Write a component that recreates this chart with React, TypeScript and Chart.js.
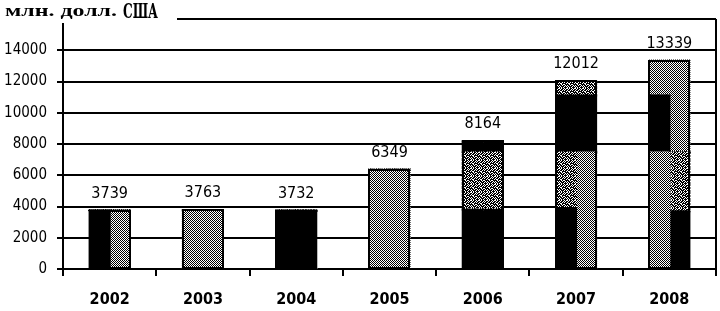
import React, { useEffect, useRef } from "react";
import { Chart, registerables } from "chart.js";

Chart.register(...registerables);

const years = ["2002", "2003", "2004", "2005", "2006", "2007", "2008"];
const totals = [3739, 3763, 3732, 6349, 8164, 12012, 13339];
const yTicks = [0, 2000, 4000, 6000, 8000, 10000, 12000, 14000, 16000];

// left half of each bar, bottom to top
const leftBlack1 = [3739, 0, 3732, 0, 3800, 3900, 0];
const leftGray1 = [0, 3763, 0, 6349, 0, 0, 7460];
const leftMottled2 = [0, 0, 0, 0, 3660, 3560, 0];
const leftBlack3 = [0, 0, 0, 0, 704, 3640, 3640];
const leftMottled4 = [0, 0, 0, 0, 0, 912, 0];
const leftGray4 = [0, 0, 0, 0, 0, 0, 2239];

// right half of each bar, bottom to top
const rightGray1 = [3739, 3763, 0, 6349, 0, 7460, 0];
const rightBlack1 = [0, 0, 3732, 0, 3800, 0, 3700];
const rightMottled2 = [0, 0, 0, 0, 3660, 0, 3760];
const rightBlack3 = [0, 0, 0, 0, 704, 3640, 0];
const rightMottled4 = [0, 0, 0, 0, 0, 912, 0];
const rightGray4 = [0, 0, 0, 0, 0, 0, 5879];

const FONT = '"DejaVu Sans Condensed", "Liberation Sans Narrow", sans-serif';

function makePattern(rows: string[]): CanvasPattern | string {
  const c = document.createElement("canvas");
  c.width = rows[0].length;
  c.height = rows.length;
  const ctx = c.getContext("2d");
  if (!ctx) return "#808080";
  ctx.fillStyle = "#fff";
  ctx.fillRect(0, 0, c.width, c.height);
  ctx.fillStyle = "#000";
  rows.forEach((r, y) => {
    for (let x = 0; x < r.length; x++) if (r[x] === "1") ctx.fillRect(x, y, 1, 1);
  });
  const p = ctx.createPattern(c, "repeat");
  return p || "#808080";
}

export default function App() {
  const ref = useRef<HTMLCanvasElement | null>(null);

  useEffect(() => {
    document.body.style.margin = "0";
    const canvas = ref.current;
    if (!canvas) return;
    const gray = makePattern(["10", "01"]);
    const mottled = makePattern([
      "10110100",
      "01101011",
      "11010110",
      "00111101",
      "10100111",
      "11011010",
      "01110101",
      "10101110",
    ]);
    const black = "#000";

    const ds = (data: number[], stack: string, color: any) => ({
      data,
      stack,
      backgroundColor: color,
      borderWidth: 0,
      inflateAmount: 1,
      categoryPercentage: 0.43,
      barPercentage: 1,
    });

    const overlay = {
      id: "overlay",
      afterDatasetsDraw(chart: any) {
        const ctx = chart.ctx;
        const xs = chart.scales.x;
        const ys = chart.scales.y;
        const n = years.length;
        ctx.save();
        for (let i = 0; i < n; i++) {
          let l = Infinity, r = -Infinity, t = Infinity, b = -Infinity;
          chart.data.datasets.forEach((d: any, di: number) => {
            if (!d.data[i]) return;
            const el = chart.getDatasetMeta(di).data[i];
            const p = el.getProps(["x", "y", "base", "width"], true);
            l = Math.min(l, p.x - p.width / 2);
            r = Math.max(r, p.x + p.width / 2);
            t = Math.min(t, p.y);
            b = Math.max(b, p.base);
          });
          if (l < r) {
            ctx.strokeStyle = "#000";
            ctx.lineWidth = 2;
            ctx.strokeRect(Math.round(l), Math.round(t), Math.round(r - l), Math.round(b - t));
          }
          ctx.fillStyle = "#000";
          ctx.font = "16px " + FONT;
          ctx.textAlign = "center";
          ctx.textBaseline = "alphabetic";
          ctx.fillText(String(totals[i]), xs.getPixelForValue(i), ys.getPixelForValue(totals[i]) - 13);
        }
        ctx.restore();
      },
      afterDraw(chart: any) {
        const ctx = chart.ctx;
        const ca = chart.chartArea;
        ctx.save();
        ctx.strokeStyle = "#000";
        ctx.lineWidth = 2;
        ctx.beginPath();
        ctx.moveTo(ca.right, ca.top);
        ctx.lineTo(ca.right, ca.bottom);
        ctx.stroke();
        ctx.fillStyle = "#fff";
        ctx.fillRect(0, 0, 177, 23);
        ctx.fillStyle = "#000";
        ctx.textBaseline = "alphabetic";
        ctx.textAlign = "left";
        const drawFit = (txt: string, font: string, x: number, y: number, w: number) => {
          ctx.font = font;
          const m = ctx.measureText(txt).width;
          ctx.save();
          ctx.translate(x, y);
          ctx.scale(w / m, 1);
          ctx.fillText(txt, 0, 0);
          ctx.restore();
        };
        drawFit("млн. долл.", 'bold 16px "Liberation Serif", serif', 5, 16, 112);
        drawFit("США", 'bold 20px "DejaVu Serif Condensed", "Liberation Serif", serif', 123, 18, 35);
        ctx.restore();
      },
    };

    const chart = new Chart(canvas, {
      type: "bar",
      data: {
        labels: years,
        datasets: [
          ds(leftBlack1, "L", black),
          ds(leftGray1, "L", gray),
          ds(leftMottled2, "L", mottled),
          ds(leftBlack3, "L", black),
          ds(leftMottled4, "L", mottled),
          ds(leftGray4, "L", gray),
          ds(rightGray1, "R", gray),
          ds(rightBlack1, "R", black),
          ds(rightMottled2, "R", mottled),
          ds(rightBlack3, "R", black),
          ds(rightMottled4, "R", mottled),
          ds(rightGray4, "R", gray),
        ] as any,
      },
      options: {
        animation: false,
        responsive: false,
        devicePixelRatio: 1,
        layout: { padding: { left: 0, right: 4, top: 14, bottom: 0 } },
        plugins: { legend: { display: false }, tooltip: { enabled: false }, title: { display: false } },
        scales: {
          x: {
            grid: { drawOnChartArea: false, drawTicks: true, tickLength: 7, color: "#000", lineWidth: 2, offset: true },
            border: { display: true, color: "#000", width: 2 },
            ticks: { color: "#000", font: { family: FONT, size: 16, weight: "bold" }, padding: 14, maxRotation: 0 },
            afterFit: (s: any) => { s.height = 42; },
          },
          y: {
            stacked: true,
            min: 0,
            max: 16000,
            afterBuildTicks: (s: any) => { s.ticks = yTicks.map((v) => ({ value: v })); },
            ticks: {
              color: "#000",
              font: { family: FONT, size: 15 },
              padding: 10,
              callback: (v: any) => (Number(v) === 16000 ? "" : String(v)),
            },
            grid: { color: "#000", lineWidth: 2, tickLength: 6, drawTicks: true },
            border: { display: true, color: "#000", width: 2 },
            afterFit: (s: any) => { s.width = 63; },
          },
        },
      },
      plugins: [overlay],
    } as any);
    return () => chart.destroy();
  }, []);

  return <canvas ref={ref} width={720} height={311} style={{ display: "block", width: 720, height: 311 }} />;
}
